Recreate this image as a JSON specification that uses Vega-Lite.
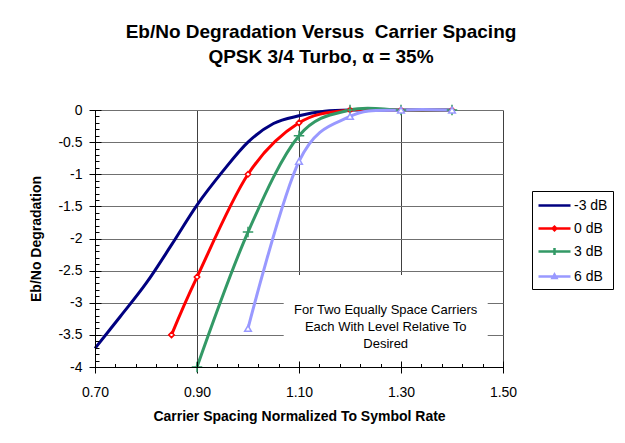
{
  "$schema": "https://vega.github.io/schema/vega-lite/v6.json",
  "width": 408,
  "height": 257,
  "autosize": {"type": "none"},
  "padding": {"left": 95, "top": 110, "right": 122, "bottom": 76},
  "background": "white",
  "title": {
    "text": ["Eb/No Degradation Versus\u00a0 Carrier Spacing", "QPSK 3/4 Turbo, α = 35%"],
    "font": "Liberation Sans",
    "fontSize": 19,
    "fontWeight": "bold",
    "color": "black",
    "anchor": "middle",
    "dx": 22,
    "offset": 35,
    "lineHeight": 25
  },
  "config": {
    "font": "Liberation Sans",
    "view": {"stroke": null},
    "axis": {"labelColor": "black", "titleColor": "black", "tickColor": "black", "domainColor": "black", "labelFont": "Liberation Sans", "titleFont": "Liberation Sans"}
  },
  "data": {
    "values": [
      {"series": "-3 dB", "x": 0.70, "y": -3.71},
      {"series": "-3 dB", "x": 0.75, "y": -3.21},
      {"series": "-3 dB", "x": 0.80, "y": -2.7},
      {"series": "-3 dB", "x": 0.85, "y": -2.1},
      {"series": "-3 dB", "x": 0.90, "y": -1.48},
      {"series": "-3 dB", "x": 0.95, "y": -0.96},
      {"series": "-3 dB", "x": 1.00, "y": -0.5},
      {"series": "-3 dB", "x": 1.05, "y": -0.21},
      {"series": "-3 dB", "x": 1.10, "y": -0.09},
      {"series": "-3 dB", "x": 1.15, "y": -0.02},
      {"series": "-3 dB", "x": 1.20, "y": 0},
      {"series": "-3 dB", "x": 1.30, "y": 0},
      {"series": "-3 dB", "x": 1.40, "y": 0},
      {"series": "0 dB", "x": 0.85, "y": -3.5},
      {"series": "0 dB", "x": 0.90, "y": -2.6},
      {"series": "0 dB", "x": 1.00, "y": -1.0},
      {"series": "0 dB", "x": 1.10, "y": -0.2},
      {"series": "0 dB", "x": 1.20, "y": 0},
      {"series": "0 dB", "x": 1.30, "y": 0},
      {"series": "0 dB", "x": 1.40, "y": 0},
      {"series": "3 dB", "x": 0.90, "y": -4.0},
      {"series": "3 dB", "x": 1.00, "y": -1.9},
      {"series": "3 dB", "x": 1.10, "y": -0.4},
      {"series": "3 dB", "x": 1.20, "y": 0},
      {"series": "3 dB", "x": 1.30, "y": 0},
      {"series": "3 dB", "x": 1.40, "y": 0},
      {"series": "6 dB", "x": 1.00, "y": -3.4},
      {"series": "6 dB", "x": 1.10, "y": -0.8},
      {"series": "6 dB", "x": 1.20, "y": -0.1},
      {"series": "6 dB", "x": 1.30, "y": 0},
      {"series": "6 dB", "x": 1.40, "y": 0}
    ]
  },
  "resolve": {"axis": {"x": "independent", "y": "independent"}},
  "layer": [
    {
      "data": {"values": [{}]},
      "mark": {"type": "rect", "fill": "white", "stroke": null},
      "encoding": {
        "x": {"datum": 1.07, "type": "quantitative", "scale": {"domain": [0.7, 1.5], "nice": false, "zero": false}, "axis": null},
        "x2": {"datum": 1.47},
        "y": {"datum": -2.57, "type": "quantitative", "scale": {"domain": [-4, 0], "nice": false, "zero": false}, "axis": null},
        "y2": {"datum": -3.95}
      }
    },
    {
      "mark": {"type": "line", "interpolate": "cardinal", "strokeWidth": 3},
      "encoding": {
        "x": {
          "field": "x", "type": "quantitative",
          "scale": {"domain": [0.7, 1.5], "nice": false, "zero": false},
          "axis": {
            "orient": "bottom", "values": [0.7, 0.9, 1.1, 1.3, 1.5], "format": ".2f",
            "grid": true, "gridColor": "#404040", "gridWidth": 1,
            "tickSize": 6, "labelFontSize": 14, "labelPadding": 12, "labelFlush": false, "labelBound": false,
            "title": "Carrier Spacing Normalized To Symbol Rate", "titleFontSize": 14, "titleFontWeight": "bold", "titlePadding": 10,
            "zindex": 0
          }
        },
        "y": {
          "field": "y", "type": "quantitative",
          "scale": {"domain": [-4, 0], "nice": false, "zero": false},
          "axis": {
            "orient": "left", "values": [0, -0.5, -1, -1.5, -2, -2.5, -3, -3.5, -4], "labelExpr": "toString(datum.value)",
            "grid": true, "gridColor": "#707070", "gridWidth": 1,
            "tickSize": 6, "labelFontSize": 14, "labelPadding": 7, "labelFlush": false,
            "title": "Eb/No Degradation", "titleFontSize": 14, "titleFontWeight": "bold", "titlePadding": 14,
            "zindex": 0
          }
        },
        "color": {
          "field": "series", "type": "nominal",
          "scale": {"domain": ["-3 dB", "0 dB", "3 dB", "6 dB"], "range": ["#000080", "#FF0000", "#339966", "#9999FF"]},
          "legend": {
            "orient": "none", "legendX": 437, "legendY": 81,
            "title": null, "labelFont": "Liberation Sans", "labelFontSize": 14, "labelColor": "black",
            "strokeColor": "black", "fillColor": "white", "padding": 5,
            "symbolSize": 256, "symbolStrokeWidth": 2.5, "labelOffset": 18, "rowPadding": 6,
            "encode": {
              "symbols": {
                "update": {
                  "shape": {"signal": "datum.value === '0 dB' ? 'M-1,0H0.78M1.22,0H3M0.78,0L1,-0.22L1.22,0L1,0.22Z' : datum.value === '3 dB' ? 'M-1,0H3M1,-0.45V0.45' : datum.value === '6 dB' ? 'M-1,0H0.78M1.22,0H3M1,-0.25L1.24,0.18L0.76,0.18Z' : 'M-1,0H3'"},
                  "fill": {"value": "white"},
                  "fillOpacity": {"value": 1}
                }
              }
            }
          }
        }
      }
    },
    {
      "transform": [{"filter": "datum.series === '0 dB'"}],
      "mark": {"type": "point", "shape": "diamond", "size": 30, "filled": true, "fill": "white", "stroke": "#FF0000", "strokeWidth": 1.5, "opacity": 1},
      "encoding": {
        "x": {"field": "x", "type": "quantitative", "scale": {"domain": [0.7, 1.5], "nice": false, "zero": false},
          "axis": {"orient": "bottom", "values": [0.7, 0.9, 1.1, 1.3, 1.5], "tickSize": -6, "labels": false, "domain": false, "grid": false, "title": null, "zindex": 1}},
        "y": {"field": "y", "type": "quantitative", "scale": {"domain": [-4, 0], "nice": false, "zero": false},
          "axis": {"orient": "left", "values": [0, -0.5, -1, -1.5, -2, -2.5, -3, -3.5, -4], "tickSize": -6, "labels": false, "domain": false, "grid": false, "title": null, "zindex": 1}}
      }
    },
    {
      "transform": [{"filter": "datum.series === '3 dB'"}],
      "mark": {"type": "point", "shape": "M-1,0H1M0,-1V1", "size": 110, "filled": false, "stroke": "#339966", "strokeWidth": 1.5, "opacity": 1},
      "encoding": {
        "x": {"field": "x", "type": "quantitative", "scale": {"domain": [0.7, 1.5], "nice": false, "zero": false},
          "axis": {"orient": "bottom", "values": [0.7, 0.74, 0.78, 0.82, 0.86, 0.9, 0.94, 0.98, 1.02, 1.06, 1.1, 1.14, 1.18, 1.22, 1.26, 1.3, 1.34, 1.38, 1.42, 1.46, 1.5], "tickSize": -3.5, "labels": false, "domain": true, "grid": false, "title": null, "zindex": 1}},
        "y": {"field": "y", "type": "quantitative", "scale": {"domain": [-4, 0], "nice": false, "zero": false},
          "axis": {"orient": "left", "values": [0, -0.1, -0.2, -0.3, -0.4, -0.5, -0.6, -0.7, -0.8, -0.9, -1, -1.1, -1.2, -1.3, -1.4, -1.5, -1.6, -1.7, -1.8, -1.9, -2, -2.1, -2.2, -2.3, -2.4, -2.5, -2.6, -2.7, -2.8, -2.9, -3, -3.1, -3.2, -3.3, -3.4, -3.5, -3.6, -3.7, -3.8, -3.9, -4], "tickSize": -4, "labels": false, "domain": true, "grid": false, "title": null, "zindex": 1}}
      }
    },
    {
      "transform": [{"filter": "datum.series === '6 dB'"}],
      "mark": {"type": "point", "shape": "triangle-up", "size": 45, "filled": true, "fill": "white", "stroke": "#9999FF", "strokeWidth": 1.5, "opacity": 1},
      "encoding": {
        "x": {"field": "x", "type": "quantitative", "axis": null},
        "y": {"field": "y", "type": "quantitative", "axis": null}
      }
    },
    {
      "data": {"values": [{}]},
      "mark": {"type": "text", "text": ["For Two Equally Space Carriers", "Each With Level Relative To", "Desired"], "font": "Liberation Sans", "fontSize": 13, "lineHeight": 17, "align": "center", "baseline": "middle", "color": "black"},
      "encoding": {
        "x": {"datum": 1.27, "type": "quantitative", "axis": null},
        "y": {"datum": -3.12, "type": "quantitative", "axis": null}
      }
    }
  ]
}
